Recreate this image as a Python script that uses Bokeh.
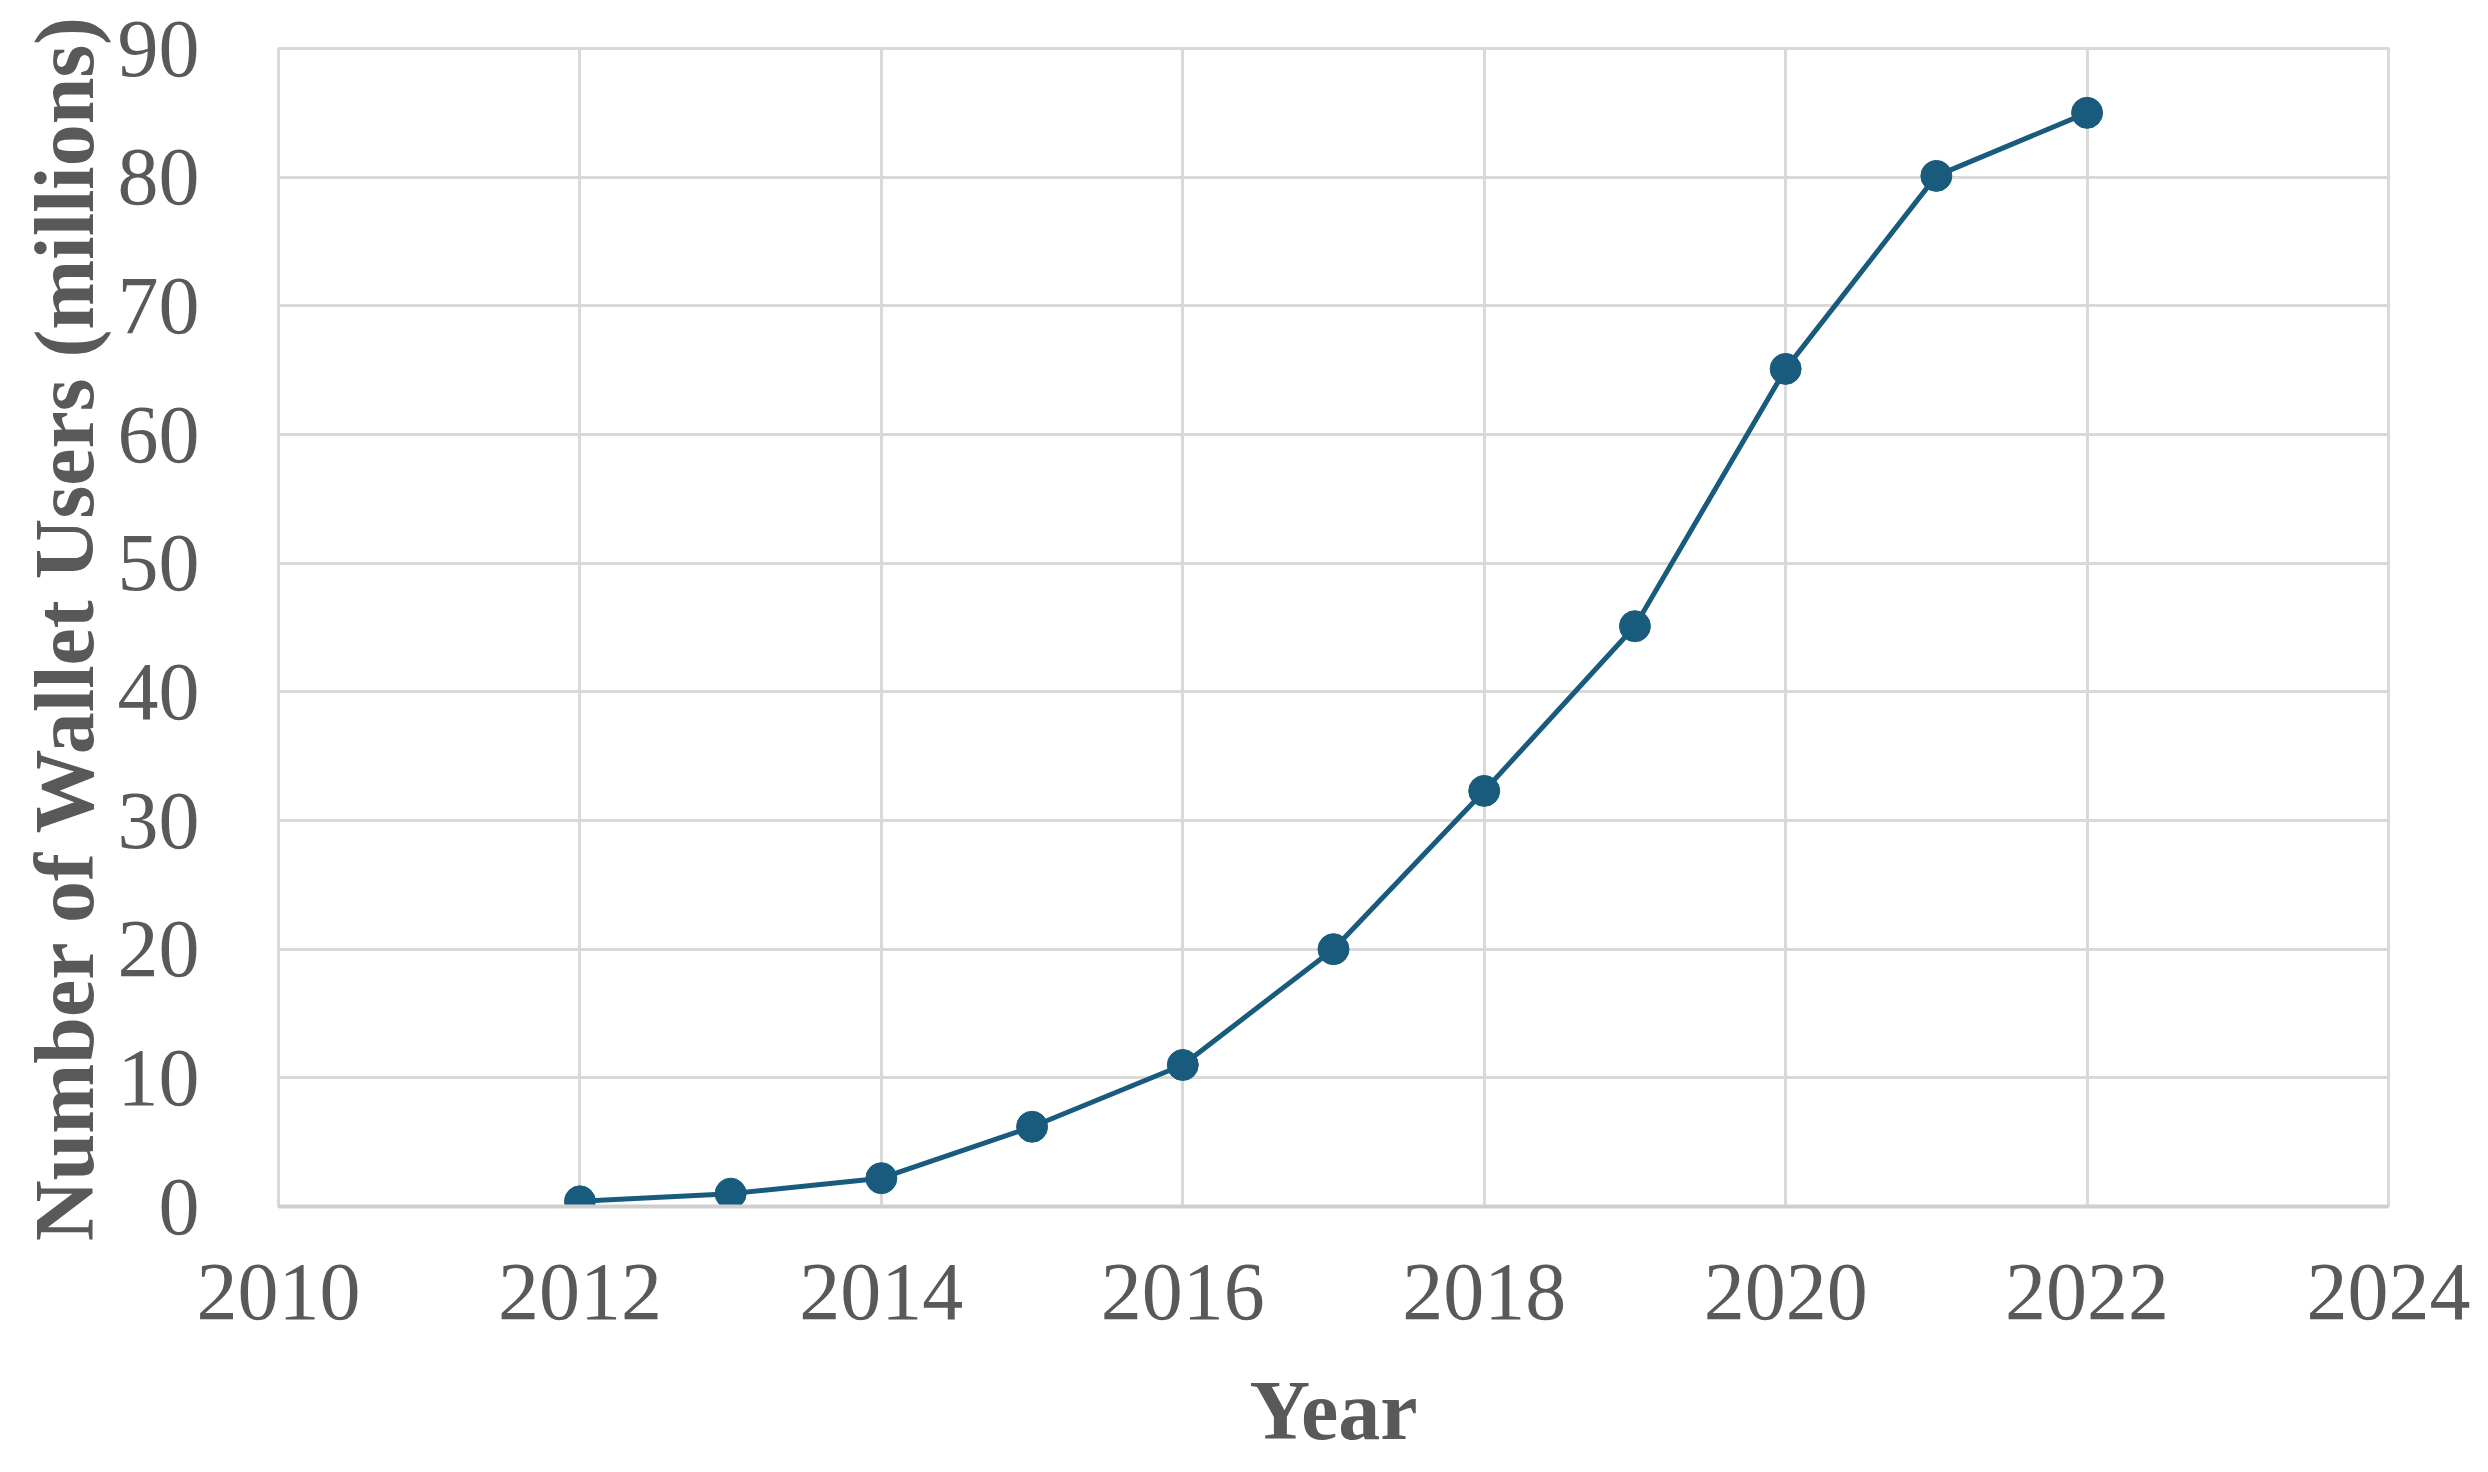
from bokeh.plotting import figure
from bokeh.models import Range1d, FixedTicker
from bokeh.embed import file_html
from bokeh.resources import INLINE

years = [2012, 2013, 2014, 2015, 2016, 2017, 2018, 2019, 2020, 2021, 2022]
users = [0.4, 1.0, 2.2, 6.2, 11.0, 20.0, 32.3, 45.1, 65.1, 80.1, 85.0]
x_ticks = [2010, 2012, 2014, 2016, 2018, 2020, 2022, 2024]
y_ticks = [0, 10, 20, 30, 40, 50, 60, 70, 80, 90]

LINE = "#185b7d"
GRID = "#d9d9d9"
TXT = "#595959"
FONT = "Liberation Serif"

p = figure(width=2470, height=1464, output_backend="svg", toolbar_location=None,
           x_range=Range1d(2010, 2024), y_range=Range1d(0, 90),
           min_border_left=278, min_border_right=82, min_border_top=48, min_border_bottom=258)

p.line(years, users, line_color=LINE, line_width=5)
p.scatter(years, users, size=31, fill_color=LINE, line_color=LINE)

p.outline_line_color = GRID
p.outline_line_width = 3

for ax in (p.xaxis[0], p.yaxis[0]):
    ax.major_tick_line_color = None
    ax.minor_tick_line_color = None
    ax.axis_line_color = None
    ax.major_label_text_font = FONT
    ax.major_label_text_font_size = "82px"
    ax.major_label_text_color = TXT
    ax.axis_label_text_font = FONT
    ax.axis_label_text_font_size = "84px"
    ax.axis_label_text_font_style = "bold"
    ax.axis_label_text_color = TXT

p.xaxis.axis_line_color = "#cfcfcf"
p.xaxis.axis_line_width = 4

p.xaxis.ticker = FixedTicker(ticks=x_ticks)
p.yaxis.ticker = FixedTicker(ticks=y_ticks)
p.xaxis.axis_label = "Year"
p.yaxis.axis_label = "Number of Wallet Users (millions)"
p.xaxis.major_label_standoff = 52
p.xaxis.axis_label_standoff = 42
p.yaxis.major_label_standoff = 73
p.yaxis.axis_label_standoff = 4

p.xgrid.ticker = FixedTicker(ticks=x_ticks)
p.ygrid.ticker = FixedTicker(ticks=y_ticks)
p.grid.grid_line_color = GRID
p.grid.grid_line_width = 3

open("out.html", "w").write(file_html(p, INLINE))
